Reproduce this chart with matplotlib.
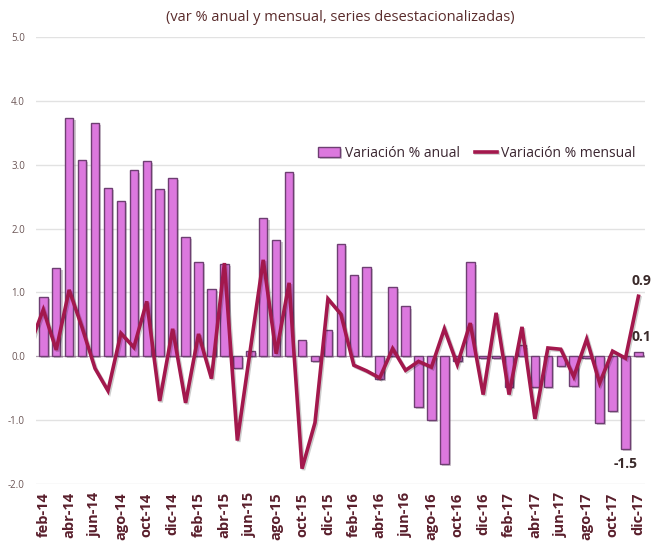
import matplotlib
matplotlib.use("Agg")
import matplotlib.pyplot as plt
import matplotlib.patheffects as pe
import numpy as np

# meses feb-14 .. dic-17
meses = ["ene", "feb", "mar", "abr", "may", "jun", "jul", "ago", "sep", "oct", "nov", "dic"]
labels = []
for yy in [14, 15, 16, 17]:
    for m in meses:
        labels.append("%s-%d" % (m, yy))
labels = labels[1:]  # start at feb-14

anual = [0.93, 1.39, 3.74, 3.08, 3.66, 2.64, 2.43, 2.91, 3.06, 2.62, 2.79,
         1.87, 1.48, 1.06, 1.45, -0.18, 0.09, 2.17, 1.82, 2.89, 0.26, -0.07, 0.41,
         1.76, 1.28, 1.40, -0.35, 1.08, 0.78, -0.79, -1.0, -1.69, -0.08, 1.47, -0.03,
         -0.02, -0.48, 0.17, -0.48, -0.48, -0.15, -0.46, -0.02, -1.04, -0.86, -1.45, 0.06]

# mensual includes ene-14 (only partly visible at the left edge)
mensual = [0.19, 0.73, 0.10, 1.04, 0.45, -0.19, -0.54, 0.36, 0.14, 0.86, -0.70, 0.43,
           -0.73, 0.35, -0.35, 1.46, -1.32, 0.10, 1.51, 0.04, 1.15, -1.76, -1.04, 0.90,
           0.66, -0.14, -0.23, -0.34, 0.12, -0.22, -0.08, -0.17, 0.43, -0.13, 0.52, -0.60,
           0.68, -0.60, 0.46, -0.98, 0.13, 0.11, -0.32, 0.27, -0.42, 0.08, -0.03, 0.94]

x_bar = np.arange(len(anual))
x_line = np.arange(len(mensual)) - 1

plt.rcParams["font.family"] = ["Open Sans", "DejaVu Sans"]

fig = plt.figure(figsize=(6.55, 5.45), dpi=100)
ax = fig.add_axes([0.055, 0.112, 0.93, 0.820])

shadow = [pe.SimplePatchShadow(offset=(1.5, -1.5), alpha=0.25), pe.Normal()]
bars = ax.bar(x_bar, anual, width=0.66, color="#dc78de", edgecolor="#6e3f72",
              linewidth=1.0, label="Variación % anual", zorder=2)
for b in bars:
    b.set_path_effects(shadow)

line, = ax.plot(x_line, mensual, color="#a3184d", linewidth=2.6, label="Variación % mensual",
                zorder=3, solid_joinstyle="miter",
                path_effects=[pe.SimpleLineShadow(offset=(1, -1), alpha=0.2), pe.Normal()])

ax.set_xlim(-0.56, len(anual) - 1 + 0.52)
ax.set_ylim(-2, 5)
ax.set_yticks(np.arange(-2, 5.1, 1))
ax.set_yticklabels(["%.1f" % v for v in np.arange(-2, 5.1, 1)], fontsize=7, color="#6b5555")
ax.yaxis.grid(True, color="#e2e2e2", linewidth=1.0, zorder=0)
ax.set_axisbelow(True)
ax.tick_params(axis="y", length=0, pad=8)

ax.set_xticks(x_bar[::2])
ax.set_xticklabels(labels[::2], rotation=90, fontsize=10.5, color="#5a1f2c",
                   fontweight="bold")
ax.tick_params(axis="x", length=0, pad=6)

for s in ax.spines.values():
    s.set_visible(False)
ax.axhline(0, color="#b0a0b0", linewidth=0.8, zorder=1)

fig.text(0.52, 0.968, "(var % anual y mensual, series desestacionalizadas)",
         ha="center", va="center", fontsize=10.5, color="#5a2c2c")

ax.legend([bars, line], ["Variación % anual", "Variación % mensual"],
          loc="upper right", bbox_to_anchor=(1.005, 0.785), ncol=2, frameon=False,
          fontsize=10, handlelength=1.6, handletextpad=0.3, columnspacing=1.1,
          labelcolor="#3a2530")

ax.annotate("0.9", (x_bar[-1], mensual[-1]), xytext=(2, 8), textcoords="offset points",
            ha="center", fontsize=10, fontweight="bold", color="#3a2a2a")
ax.annotate("0.1", (x_bar[-1], anual[-1]), xytext=(2, 8), textcoords="offset points",
            ha="center", fontsize=10, fontweight="bold", color="#3a2a2a")
ax.annotate("-1.5", (x_bar[-2], anual[-2]), xytext=(0, -14), textcoords="offset points",
            ha="center", fontsize=10, fontweight="bold", color="#3a2a2a")

fig.savefig("out.png", dpi=100)
